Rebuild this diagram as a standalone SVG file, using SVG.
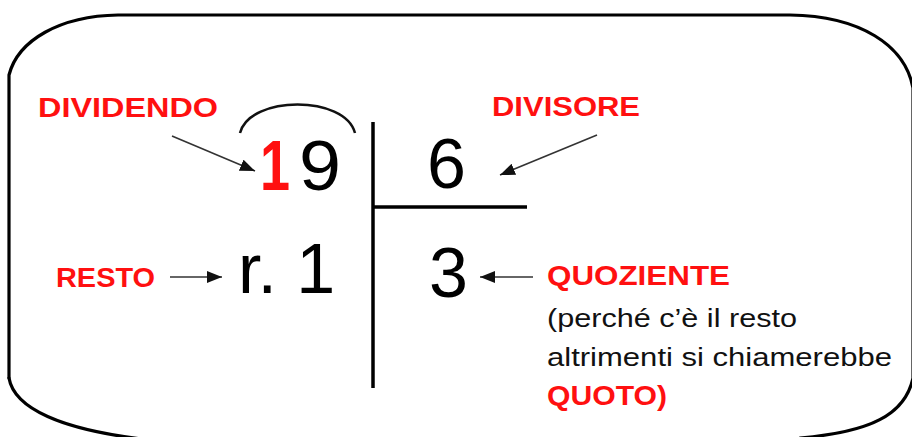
<svg xmlns="http://www.w3.org/2000/svg" width="912" height="437" viewBox="0 0 912 437">
<style>
.frame{fill:none;stroke:#000;stroke-width:3.2;stroke-linecap:round}
.bar{stroke:#000;stroke-width:3.5;stroke-linecap:butt}
.lbl{font-family:"Liberation Sans",Arial,sans-serif;font-weight:bold;font-size:27px;fill:#ff1010}
.txt{font-family:"Liberation Sans",Arial,sans-serif;font-size:26px;fill:#111}
.num{font-family:"Liberation Sans",Arial,sans-serif;font-size:70px;fill:#000}
.red{fill:#ff1010;font-weight:bold}
.arr{fill:none;stroke:#333;stroke-width:1.6;marker-end:url(#ah)}
.arc{fill:none;stroke:#111;stroke-width:2.5}
</style>
<defs>
<marker id="ah" markerUnits="userSpaceOnUse" markerWidth="16" markerHeight="12" refX="15" refY="6" orient="auto">
<path d="M0,0 L15,6 L0,12 Z" fill="#111"/>
</marker>
</defs>
<rect width="912" height="437" fill="#fff"/>
<g id="frame">
<path class="frame" d="M9,378 V75 C18,40 60,16 118,15 H790 C860,16 905,45 913,88 V378 C905,415 870,432 800,438"/>
<path class="frame" d="M9,378 C14,408 60,430 150,440"/>
</g>
<g id="division-bars">
<line class="bar" x1="373" y1="122" x2="373" y2="388"/>
<line class="bar" x1="373" y1="207" x2="527" y2="207"/>
</g>
<g id="dividendo">
<text class="num red" x="260" y="190" textLength="30" lengthAdjust="spacingAndGlyphs">1</text>
<text class="num" x="299" y="190" textLength="42" lengthAdjust="spacingAndGlyphs">9</text>
<path class="arc" d="M240,133 C250,95 345,95 355,133"/>
</g>
<g id="divisore">
<text class="num" x="427" y="188">6</text>
</g>
<g id="resto">
<text class="num" x="238" y="293">r. 1</text>
</g>
<g id="quoziente">
<text class="num" x="429" y="297">3</text>
</g>
<g id="label-dividendo"><text class="lbl" x="38" y="117" textLength="180" lengthAdjust="spacingAndGlyphs">DIVIDENDO</text></g>
<g id="label-divisore"><text class="lbl" x="492" y="116" textLength="148" lengthAdjust="spacingAndGlyphs">DIVISORE</text></g>
<g id="label-resto"><text class="lbl" x="56" y="287" textLength="99" lengthAdjust="spacingAndGlyphs">RESTO</text></g>
<g id="label-quoziente">
<text class="lbl" x="547" y="285" textLength="183" lengthAdjust="spacingAndGlyphs">QUOZIENTE</text>
<text class="txt" x="547" y="327" textLength="250" lengthAdjust="spacingAndGlyphs">(perché c’è il resto</text>
<text class="txt" x="547" y="366" textLength="345" lengthAdjust="spacingAndGlyphs">altrimenti si chiamerebbe</text>
<text class="lbl" x="547" y="405" textLength="120" lengthAdjust="spacingAndGlyphs">QUOTO)</text>
</g>
<g id="connectors">
<line class="arr" x1="172" y1="136" x2="255" y2="171"/>
<line class="arr" x1="597" y1="135" x2="500" y2="175"/>
<line class="arr" x1="170" y1="277" x2="222" y2="277"/>
<line class="arr" x1="533" y1="277" x2="480" y2="277"/>
</g>
</svg>
